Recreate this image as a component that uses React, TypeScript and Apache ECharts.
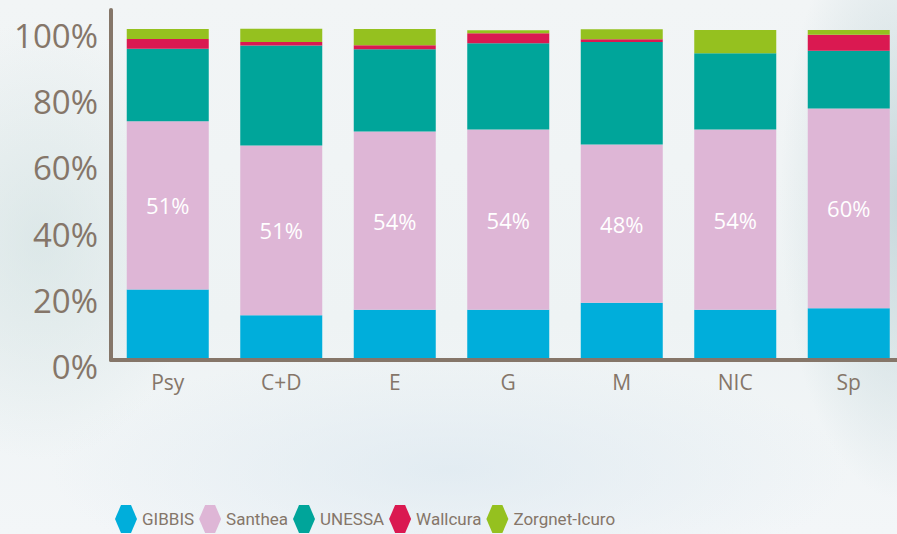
import React, { useEffect, useRef } from "react";
import * as echarts from "echarts";

const categories = ["Psy", "C+D", "E", "G", "M", "NIC", "Sp"];
const seriesNames = ["GIBBIS", "Santhea", "UNESSA", "Wallcura", "Zorgnet-Icuro"];
const gibbis = [21.3, 13.5, 15.2, 15.2, 17.3, 15.2, 15.6];
const santhea = [50.8, 51.3, 53.8, 54.4, 47.8, 54.4, 60.4];
const unessa = [21.9, 30.2, 24.9, 26.1, 31.0, 23.1, 17.4];
const wallcura = [3.0, 1.1, 1.2, 3.0, 0.8, 0, 4.9];
const zorgnet = [3.0, 4.0, 4.9, 0.9, 3.0, 7.0, 1.4];
const yTicks = [0, 20, 40, 60, 80, 100];

const colors = ["#00AEDB", "#DEB6D6", "#00A59A", "#DA1951", "#95C11F"];
const textColor = "#857669";
const hexIcon = "path://M0,14 L6,0 L16,0 L22,14 L16,28 L6,28 Z";

export default function App() {
  const ref = useRef<HTMLDivElement>(null);
  useEffect(() => {
    if (!ref.current) return;
    const chart = echarts.init(ref.current, undefined, { renderer: "svg" });
    const values = [gibbis, santhea, unessa, wallcura, zorgnet];
    chart.setOption({
      animation: false,
      backgroundColor: "transparent",
      textStyle: { fontFamily: "Open Sans" },
      grid: { left: 111, top: 10, width: 794.5, height: 350 },
      legend: {
        left: 115,
        top: 505,
        padding: 0,
        itemWidth: 22,
        itemHeight: 28,
        itemGap: 5,
        icon: hexIcon,
        data: seriesNames,
        textStyle: {
          color: textColor,
          fontSize: 17,
          fontFamily: "Roboto",
          padding: [6, 0, 0, 0],
        },
      },
      xAxis: {
        type: "category",
        data: categories,
        z: 5,
        axisLine: { lineStyle: { color: textColor, width: 4 } },
        axisTick: { show: false },
        axisLabel: { color: textColor, fontSize: 21, margin: 11, fontFamily: "Open Sans" },
      },
      yAxis: {
        type: "value",
        min: 0,
        max: 105.74,
        interval: 20,
        z: 5,
        axisLine: { show: true, lineStyle: { color: textColor, width: 4 } },
        axisTick: { show: false },
        splitLine: { show: false },
        axisLabel: {
          color: textColor,
          fontSize: 33,
          margin: 13,
          verticalAlign: "top",
          lineHeight: 13,
          fontFamily: "Open Sans",
          formatter: (v: number) =>
            yTicks.includes(Math.round(v)) && Math.abs(v - Math.round(v)) < 1e-6 ? `${Math.round(v)}%` : "",
        },
      },
      series: seriesNames.map((name, i) => ({
        name,
        type: "bar",
        stack: "total",
        barWidth: 82,
        data: values[i],
        itemStyle: { color: colors[i] },
        label:
          i === 1
            ? {
                show: true,
                position: "inside",
                color: "#ffffff",
                fontSize: 22,
                fontFamily: "Open Sans",
                formatter: (p: any) => `${Math.round(p.value)}%`,
              }
            : { show: false },
      })),
    });
    return () => chart.dispose();
  }, []);
  return (
    <div
      style={{
        position: "fixed",
        left: 0,
        top: 0,
        width: 897,
        height: 534,
        overflow: "hidden",
        background:
          "radial-gradient(ellipse 160px 220px at 40px 240px, rgba(205,222,222,0.55), rgba(205,222,222,0)), radial-gradient(ellipse 120px 300px at 900px 200px, rgba(190,210,214,0.8), rgba(190,210,214,0)), radial-gradient(ellipse 400px 120px at 450px 470px, rgba(220,232,240,0.7), rgba(220,232,240,0)), linear-gradient(180deg, #f2f5f6 0%, #eef3f4 60%, #f3f6f8 100%)",
      }}
    >
      <div ref={ref} style={{ width: 920, height: 534 }} />
    </div>
  );
}
